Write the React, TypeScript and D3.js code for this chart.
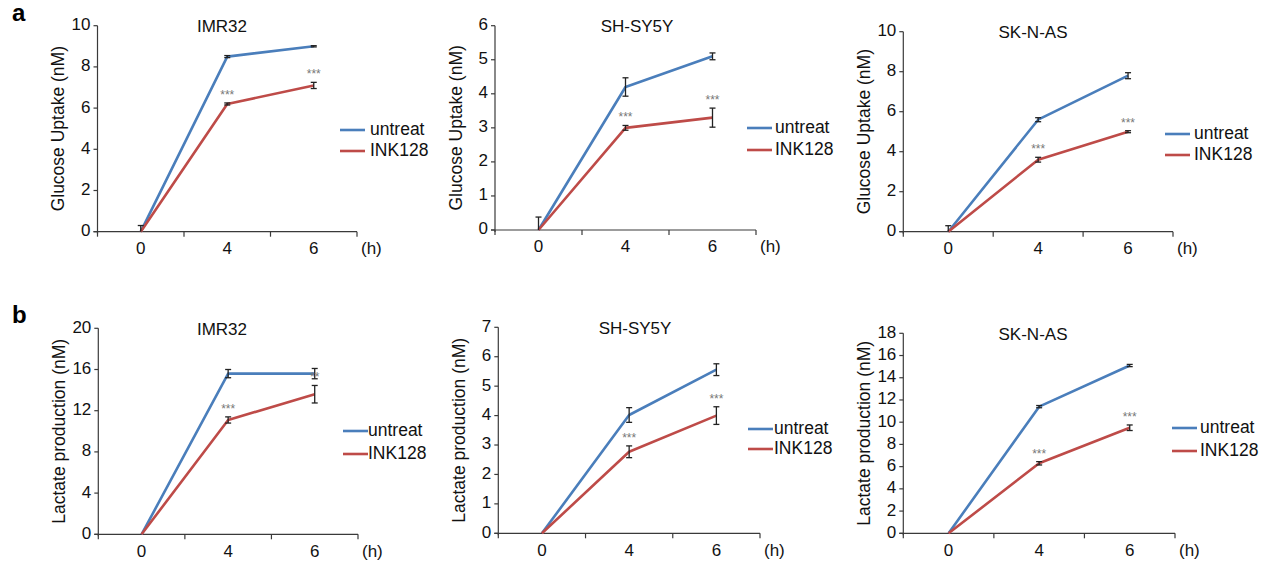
import React from 'react';
import * as d3 from 'd3';

// time points (h)
const hours = ['0', '4', '6'];
const seriesNames = ['untreat', 'INK128'];
const seriesColors = ['#4A7EBB', '#BE4B48'];

// a: glucose uptake
const glucoseIMR32Untreat = [0, 8.5, 9.0];
const glucoseIMR32UntreatErr = [0.3, 0.05, 0.03];
const glucoseIMR32Ink = [0, 6.2, 7.1];
const glucoseIMR32InkErr = [0, 0.05, 0.15];
const glucoseIMR32Stars = ['', '***', '***'];

const glucoseSHSY5YUntreat = [0, 4.2, 5.1];
const glucoseSHSY5YUntreatErr = [0.38, 0.27, 0.1];
const glucoseSHSY5YInk = [0, 3.0, 3.3];
const glucoseSHSY5YInkErr = [0, 0.07, 0.28];
const glucoseSHSY5YStars = ['', '***', '***'];

const glucoseSKNASUntreat = [0, 5.6, 7.8];
const glucoseSKNASUntreatErr = [0.3, 0.1, 0.15];
const glucoseSKNASInk = [0, 3.6, 5.0];
const glucoseSKNASInkErr = [0, 0.12, 0.05];
const glucoseSKNASStars = ['', '***', '***'];

// b: lactate production
const lactateIMR32Untreat = [0, 15.6, 15.6];
const lactateIMR32UntreatErr = [0, 0.4, 0.5];
const lactateIMR32Ink = [0, 11.1, 13.6];
const lactateIMR32InkErr = [0, 0.3, 0.85];
const lactateIMR32Stars = ['', '***', '**'];

const lactateSHSY5YUntreat = [0, 4.02, 5.56];
const lactateSHSY5YUntreatErr = [0, 0.25, 0.2];
const lactateSHSY5YInk = [0, 2.77, 4.0];
const lactateSHSY5YInkErr = [0, 0.2, 0.3];
const lactateSHSY5YStars = ['', '***', '***'];

const lactateSKNASUntreat = [0, 11.4, 15.1];
const lactateSKNASUntreatErr = [0, 0.1, 0.1];
const lactateSKNASInk = [0, 6.3, 9.5];
const lactateSKNASInkErr = [0, 0.15, 0.25];
const lactateSKNASStars = ['', '***', '***'];

const FONT = 'Liberation Sans, Arial, sans-serif';
const AXIS = '#3a3a3a';

const panels = [
  { title: 'IMR32', label: 'Glucose Uptake (nM)', letter: 'a', max: 10, step: 2,
    left: 97.5, right: 357, top: 25.7, bottom: 231.7, titleX: 222,
    legendX: 340, legendY: 130, legendGap: 21, legendText: 30,
    values: [glucoseIMR32Untreat, glucoseIMR32Ink], errs: [glucoseIMR32UntreatErr, glucoseIMR32InkErr], stars: glucoseIMR32Stars },
  { title: 'SH-SY5Y', label: 'Glucose Uptake (nM)', max: 6, step: 1,
    left: 495, right: 756, top: 25.7, bottom: 230, titleX: 637,
    legendX: 747, legendY: 128, legendGap: 22, legendText: 28,
    values: [glucoseSHSY5YUntreat, glucoseSHSY5YInk], errs: [glucoseSHSY5YUntreatErr, glucoseSHSY5YInkErr], stars: glucoseSHSY5YStars },
  { title: 'SK-N-AS', label: 'Glucose Uptake (nM)', max: 10, step: 2,
    left: 903.3, right: 1173, top: 31.7, bottom: 231.7, titleX: 1033,
    legendX: 1165, legendY: 134, legendGap: 21, legendText: 29,
    values: [glucoseSKNASUntreat, glucoseSKNASInk], errs: [glucoseSKNASUntreatErr, glucoseSKNASInkErr], stars: glucoseSKNASStars },
  { title: 'IMR32', label: 'Lactate production (nM)', letter: 'b', max: 20, step: 4,
    left: 98.3, right: 358, top: 328.3, bottom: 534.3, titleX: 222,
    legendX: 343, legendY: 431, legendGap: 23, legendText: 25,
    values: [lactateIMR32Untreat, lactateIMR32Ink], errs: [lactateIMR32UntreatErr, lactateIMR32InkErr], stars: lactateIMR32Stars },
  { title: 'SH-SY5Y', label: 'Lactate production (nM)', max: 7, step: 1,
    left: 498.3, right: 760, top: 327.3, bottom: 533.3, titleX: 635,
    legendX: 748, legendY: 429, legendGap: 20, legendText: 26,
    values: [lactateSHSY5YUntreat, lactateSHSY5YInk], errs: [lactateSHSY5YUntreatErr, lactateSHSY5YInkErr], stars: lactateSHSY5YStars },
  { title: 'SK-N-AS', label: 'Lactate production (nM)', max: 18, step: 2,
    left: 903.3, right: 1175, top: 333.3, bottom: 533.3, titleX: 1033,
    legendX: 1172, legendY: 428, legendGap: 23, legendText: 28,
    values: [lactateSKNASUntreat, lactateSKNASInk], errs: [lactateSKNASUntreatErr, lactateSKNASInkErr], stars: lactateSKNASStars },
];

const Panel = ({ p }: { p: any }) => {
  const x = d3.scaleBand<string>().domain(hours).range([p.left, p.right]);
  const y = d3.scaleLinear().domain([0, p.max]).range([p.bottom, p.top]);
  const cx = (i: number) => (x(hours[i]) as number) + x.bandwidth() / 2;
  const yTicks = d3.range(0, p.max + p.step / 2, p.step);
  const line = d3.line<number>().x((_, i) => cx(i)).y(d => y(d));
  const bounds = [p.left, ...hours.map(h => (x(h) as number) + x.bandwidth())];
  const midY = (p.top + p.bottom) / 2;

  return (
    <g fontFamily={FONT}>
      {p.letter && (
        <text x={12} y={p.top - 5} fontSize={24} fontWeight="bold" fill="#000">{p.letter}</text>
      )}
      <text x={p.titleX} y={p.top + 2} fontSize={17} textAnchor="middle" dominantBaseline="middle" fill="#111">{p.title}</text>
      <text transform={`translate(${p.left - 38},${midY}) rotate(-90)`} fontSize={17.5} textAnchor="middle" dominantBaseline="middle" fill="#111">{p.label}</text>

      {/* y axis */}
      <line x1={p.left} x2={p.left} y1={p.top} y2={p.bottom + 2} stroke={AXIS} strokeWidth={1.2} />
      {yTicks.map(t => (
        <g key={t}>
          <line x1={p.left - 4} x2={p.left} y1={y(t)} y2={y(t)} stroke={AXIS} strokeWidth={1.2} />
          <text x={p.left - 7} y={y(t)} fontSize={17} textAnchor="end" dominantBaseline="middle" fill="#111">{t}</text>
        </g>
      ))}

      {/* x axis */}
      <line x1={p.left - 4} x2={p.right} y1={p.bottom} y2={p.bottom} stroke={AXIS} strokeWidth={1.2} />
      {bounds.map((b, i) => (
        <line key={i} x1={b} x2={b} y1={p.bottom} y2={p.bottom + 5} stroke={AXIS} strokeWidth={1.2} />
      ))}
      {hours.map((h, i) => (
        <text key={h} x={cx(i)} y={p.bottom + 18} fontSize={17} textAnchor="middle" dominantBaseline="middle" fill="#111">{h}</text>
      ))}
      <text x={p.right + 4} y={p.bottom + 18} fontSize={17} dominantBaseline="middle" fill="#111">(h)</text>

      {/* series */}
      {p.values.map((vals: number[], s: number) => (
        <path key={s} d={line(vals) as string} fill="none" stroke={seriesColors[s]} strokeWidth={2.6} strokeLinejoin="round" />
      ))}
      {p.values.map((vals: number[], s: number) =>
        vals.map((v, i) => {
          const e = p.errs[s][i];
          if (!e) return null;
          const lo = Math.max(0, v - e);
          return (
            <g key={`${s}-${i}`} stroke="#222" strokeWidth={1.3}>
              <line x1={cx(i)} x2={cx(i)} y1={y(lo)} y2={y(v + e)} />
              {v - e > 0 && <line x1={cx(i) - 3} x2={cx(i) + 3} y1={y(lo)} y2={y(lo)} />}
              <line x1={cx(i) - 3} x2={cx(i) + 3} y1={y(v + e)} y2={y(v + e)} />
            </g>
          );
        })
      )}
      {p.stars.map((st: string, i: number) => st ? (
        <text key={i} x={cx(i)} y={y(p.values[1][i] + p.errs[1][i]) - 4} fontSize={12} textAnchor="middle" fill="#777">{st}</text>
      ) : null)}

      {/* legend */}
      {seriesNames.map((n, s) => (
        <g key={n}>
          <line x1={p.legendX} x2={p.legendX + 25} y1={p.legendY + s * p.legendGap} y2={p.legendY + s * p.legendGap} stroke={seriesColors[s]} strokeWidth={2.6} />
          <text x={p.legendX + p.legendText} y={p.legendY + s * p.legendGap} fontSize={17.5} dominantBaseline="middle" fill="#111">{n}</text>
        </g>
      ))}
    </g>
  );
};

export default function App() {
  return (
    <svg width={1277} height={563} style={{ position: 'absolute', left: 0, top: 0, background: '#fff' }}>
      <rect width={1277} height={563} fill="#fff" />
      {panels.map((p, i) => <Panel key={i} p={p} />)}
    </svg>
  );
}
